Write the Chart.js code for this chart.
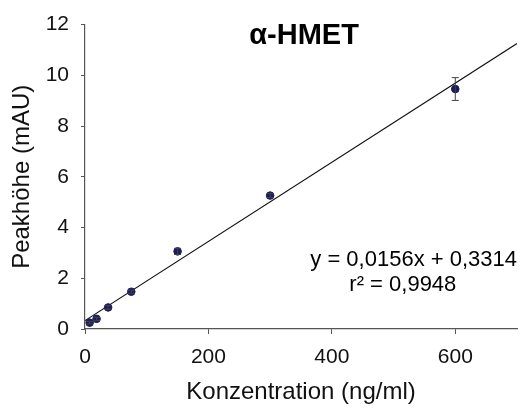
<!DOCTYPE html>
<html>
<head>
<meta charset="utf-8">
<script src="https://cdn.jsdelivr.net/npm/chart.js@4/dist/chart.umd.min.js"></script>
<style>
  html, body { margin: 0; padding: 0; background: #ffffff; }
  #wrap { width: 522px; height: 414px; position: relative; }
</style>
</head>
<body>
<div id="wrap"><canvas id="calChart"></canvas></div>
<script>
const concentrations = [7.5, 18.75, 37.5, 75, 150, 300, 600];
const peakHeights    = [0.25, 0.40, 0.85, 1.47, 3.06, 5.26, 9.46];
const peakErrors     = [0.05, 0.06, 0.07, 0.06, 0.12, 0.08, 0.45];

// regression line endpoints (y = 0,0156x + 0,3314)
const fitX = [0, 700];
const fitY = [0.3314, 11.2514];

const xTicks = [0, 200, 400, 600];
const yTicks = [0, 2, 4, 6, 8, 10, 12];

const TITLE = 'α-HMET';
const EQ_LINE = 'y = 0,0156x + 0,3314';
const R2_LINE = 'r² = 0,9948';

const FONT = '"Liberation Sans", Arial, sans-serif';
const AXIS_COLOR = '#555555';

const pointData = concentrations.map((x, i) => ({ x, y: peakHeights[i] }));
const fitData = fitX.map((x, i) => ({ x, y: fitY[i] }));

const errorBarsPlugin = {
  id: 'errorBars',
  afterDatasetsDraw(chart) {
    const { ctx: c, scales } = chart;
    c.save();
    c.strokeStyle = '#444444';
    c.lineWidth = 1;
    concentrations.forEach((xv, i) => {
      const x = scales.x.getPixelForValue(xv);
      const yTop = scales.y.getPixelForValue(peakHeights[i] + peakErrors[i]);
      const yBot = scales.y.getPixelForValue(peakHeights[i] - peakErrors[i]);
      c.beginPath();
      c.moveTo(x, yTop); c.lineTo(x, yBot);
      c.moveTo(x - 3.5, yTop); c.lineTo(x + 3.5, yTop);
      c.moveTo(x - 3.5, yBot); c.lineTo(x + 3.5, yBot);
      c.stroke();
    });
    c.restore();
  }
};

const textPlugin = {
  id: 'plotTexts',
  afterDraw(chart) {
    const { ctx: c, scales, chartArea } = chart;
    c.save();
    c.fillStyle = '#000000';
    c.textBaseline = 'middle';

    c.font = 'bold 29px ' + FONT;
    c.textAlign = 'center';
    c.fillText(TITLE, scales.x.getPixelForValue(355), scales.y.getPixelForValue(11.55));

    c.font = '22px ' + FONT;
    c.textAlign = 'right';
    c.fillText(EQ_LINE, chartArea.right, scales.y.getPixelForValue(2.72));
    c.textAlign = 'center';
    c.fillText(R2_LINE, scales.x.getPixelForValue(515), scales.y.getPixelForValue(1.74));
    c.restore();
  }
};

new Chart(document.getElementById('calChart').getContext('2d'), {
  type: 'scatter',
  data: {
    datasets: [
      {
        type: 'line',
        label: 'Regression',
        data: fitData,
        borderColor: '#111111',
        borderWidth: 1.2,
        pointRadius: 0,
        fill: false,
        tension: 0,
        order: 2,
      },
      {
        label: 'Peakhöhe',
        data: pointData,
        backgroundColor: '#1b1b5e',
        borderColor: '#1b1b5e',
        pointRadius: 3.8,
        pointHoverRadius: 4,
        order: 1,
      },
    ],
  },
  plugins: [errorBarsPlugin, textPlugin],
  options: {
    responsive: true,
    maintainAspectRatio: false,
    animation: false,
    layout: { padding: { top: 20, right: 4, bottom: 0, left: 0 } },
    plugins: {
      legend: { display: false },
      tooltip: { enabled: false },
    },
    scales: {
      x: {
        type: 'linear',
        min: 0,
        max: 700,
        afterBuildTicks(scale) {
          scale.ticks = xTicks.map(v => ({ value: v }));
        },
        afterFit(scale) { scale.height = 85; },
        border: { display: true, color: AXIS_COLOR, width: 1.2 },
        grid: { display: true, drawOnChartArea: false, drawTicks: true, tickLength: 5, color: AXIS_COLOR },
        ticks: { color: '#111111', padding: 11, font: { family: FONT, size: 21 } },
        title: {
          display: true,
          text: 'Konzentration (ng/ml)',
          color: '#111111',
          font: { family: FONT, size: 24 },
          padding: { top: 0, bottom: 7 },
        },
      },
      y: {
        type: 'linear',
        min: 0,
        max: 12,
        afterBuildTicks(scale) {
          scale.ticks = yTicks.map(v => ({ value: v }));
        },
        afterFit(scale) { scale.width = 85; },
        border: { display: true, color: AXIS_COLOR, width: 1.2 },
        grid: { display: true, drawOnChartArea: false, drawTicks: true, tickLength: 4, color: AXIS_COLOR },
        ticks: { color: '#111111', padding: 12, font: { family: FONT, size: 21 } },
        title: {
          display: true,
          text: 'Peakhöhe (mAU)',
          color: '#111111',
          font: { family: FONT, size: 24 },
          padding: { top: 8, bottom: 0 },
        },
      },
    },
  },
});
</script>
</body>
</html>
